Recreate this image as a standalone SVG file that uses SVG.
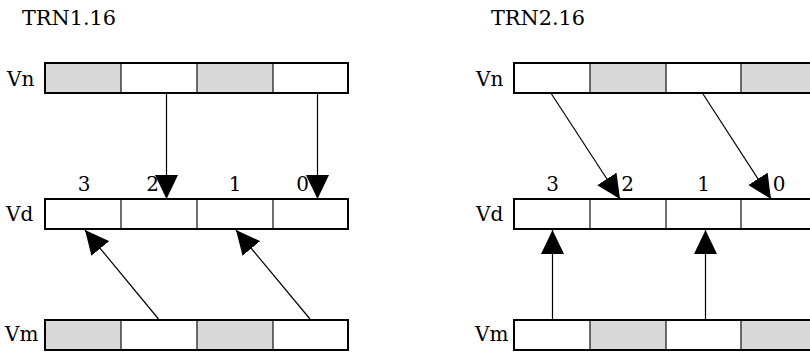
<svg xmlns="http://www.w3.org/2000/svg" width="810" height="352" viewBox="0 0 810 352">
<style>
text{font-family:"DejaVu Serif","Liberation Serif",serif;font-size:20px;fill:#000}
.title{font-size:20.8px}
.box{fill:none;stroke:#000;stroke-width:2}
.div{stroke:#222;stroke-width:1.3}
.g{fill:#d9d9d9}
.w{fill:#fff}
.c{stroke:#000;stroke-width:1.2;fill:none;marker-end:url(#ah)}
.lbl{text-anchor:middle}
</style>
<defs>
<marker id="ah" markerUnits="userSpaceOnUse" markerWidth="24" markerHeight="24" refX="24" refY="12" orient="auto" viewBox="0 0 24 24">
<path d="M0,0.5 L24,12 L0,23.5 Z" fill="#000"/>
</marker>
</defs>
<rect width="810" height="352" fill="#fff"/>
<text class="title" x="22" y="25">TRN1.16</text>
<text class="title" x="491" y="25">TRN2.16</text>

<g id="left-Vn">
<text x="7" y="86">Vn</text>
<rect class="g" x="45" y="63" width="76" height="30"/>
<rect class="w" x="121" y="63" width="76" height="30"/>
<rect class="g" x="197" y="63" width="76" height="30"/>
<rect class="w" x="273" y="63" width="75" height="30"/>
<line class="div" x1="121" y1="63" x2="121" y2="93"/>
<line class="div" x1="197" y1="63" x2="197" y2="93"/>
<line class="div" x1="273" y1="63" x2="273" y2="93"/>
<rect class="box" x="45" y="63" width="303" height="30"/>
</g>

<g id="left-Vd">
<text x="6" y="221">Vd</text>
<rect class="w" x="45" y="199" width="303" height="30"/>
<line class="div" x1="121" y1="199" x2="121" y2="229"/>
<line class="div" x1="197" y1="199" x2="197" y2="229"/>
<line class="div" x1="273" y1="199" x2="273" y2="229"/>
<rect class="box" x="45" y="199" width="303" height="30"/>
<text class="lbl" x="84" y="191">3</text>
<text class="lbl" x="152.5" y="191">2</text>
<text class="lbl" x="235" y="191">1</text>
<text class="lbl" x="302.5" y="191">0</text>
</g>

<g id="left-Vm">
<text x="5" y="341">Vm</text>
<rect class="g" x="45" y="320" width="76" height="30"/>
<rect class="w" x="121" y="320" width="76" height="30"/>
<rect class="g" x="197" y="320" width="76" height="30"/>
<rect class="w" x="273" y="320" width="75" height="30"/>
<line class="div" x1="121" y1="320" x2="121" y2="350"/>
<line class="div" x1="197" y1="320" x2="197" y2="350"/>
<line class="div" x1="273" y1="320" x2="273" y2="350"/>
<rect class="box" x="45" y="320" width="303" height="30"/>
</g>

<g id="right-Vn">
<text x="476" y="86">Vn</text>
<rect class="w" x="514" y="63" width="76" height="30"/>
<rect class="g" x="590" y="63" width="76" height="30"/>
<rect class="w" x="666" y="63" width="75" height="30"/>
<rect class="g" x="741" y="63" width="76" height="30"/>
<line class="div" x1="590" y1="63" x2="590" y2="93"/>
<line class="div" x1="666" y1="63" x2="666" y2="93"/>
<line class="div" x1="741" y1="63" x2="741" y2="93"/>
<rect class="box" x="514" y="63" width="303" height="30"/>
</g>

<g id="right-Vd">
<text x="476" y="221">Vd</text>
<rect class="w" x="514" y="199" width="303" height="30"/>
<line class="div" x1="590" y1="199" x2="590" y2="229"/>
<line class="div" x1="666" y1="199" x2="666" y2="229"/>
<line class="div" x1="741" y1="199" x2="741" y2="229"/>
<rect class="box" x="514" y="199" width="303" height="30"/>
<text class="lbl" x="552.5" y="191">3</text>
<text class="lbl" x="627.5" y="191">2</text>
<text class="lbl" x="703.5" y="191">1</text>
<text class="lbl" x="779" y="191">0</text>
</g>

<g id="right-Vm">
<text x="475" y="341">Vm</text>
<rect class="w" x="514" y="320" width="76" height="30"/>
<rect class="g" x="590" y="320" width="76" height="30"/>
<rect class="w" x="666" y="320" width="75" height="30"/>
<rect class="g" x="741" y="320" width="76" height="30"/>
<line class="div" x1="590" y1="320" x2="590" y2="350"/>
<line class="div" x1="666" y1="320" x2="666" y2="350"/>
<line class="div" x1="741" y1="320" x2="741" y2="350"/>
<rect class="box" x="514" y="320" width="303" height="30"/>
</g>

<g id="connectors">
<line class="c" x1="166.5" y1="94" x2="166.5" y2="199"/>
<line class="c" x1="317.5" y1="94" x2="317.5" y2="199"/>
<line class="c" x1="158.5" y1="319" x2="85" y2="230"/>
<line class="c" x1="310" y1="319" x2="236" y2="230"/>
<line class="c" x1="551.5" y1="94" x2="620" y2="199"/>
<line class="c" x1="703" y1="94" x2="771" y2="199"/>
<line class="c" x1="552.5" y1="319" x2="552.5" y2="230"/>
<line class="c" x1="705.5" y1="319" x2="705.5" y2="230"/>
</g>
</svg>
